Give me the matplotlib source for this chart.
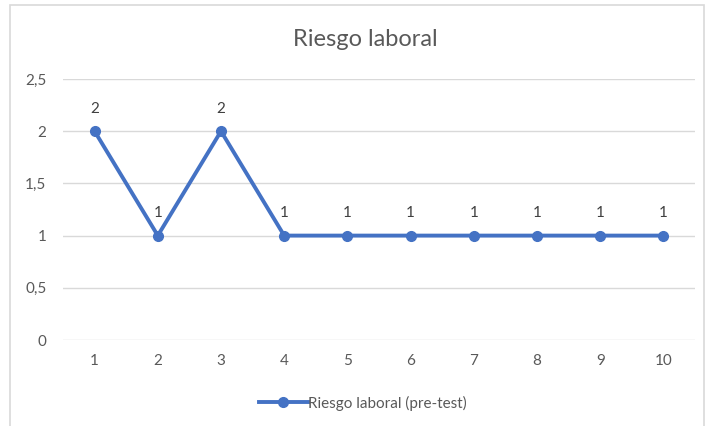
import matplotlib
matplotlib.use("Agg")
import matplotlib.pyplot as plt
from matplotlib.patches import Rectangle

# datos
dias = [1, 2, 3, 4, 5, 6, 7, 8, 9, 10]
riesgo = [2, 1, 2, 1, 1, 1, 1, 1, 1, 1]
y_ticks = [0, 0.5, 1, 1.5, 2, 2.5]
y_labels = ["0", "0,5", "1", "1,5", "2", "2,5"]
serie = "Riesgo laboral (pre-test)"
titulo = "Riesgo laboral"

plt.rcParams["font.family"] = ["Lato", "DejaVu Sans"]
azul = "#4472C4"
gris_txt = "#595959"

fig = plt.figure(figsize=(7.07, 4.26), dpi=100)
fig.patches.append(Rectangle((10 / 707, -0.1), 694 / 707, 1 - 5 / 426 + 0.1,
                             transform=fig.transFigure, fill=False,
                             edgecolor="#d9d9d9", linewidth=1.2))
ax = fig.add_axes([63 / 707, 1 - 340 / 426, 632 / 707, 261 / 426])

ax.plot(dias, riesgo, color=azul, linewidth=2.8, marker="o", markersize=7,
        label=serie, zorder=3)
for x, y in zip(dias, riesgo):
    ax.annotate(str(y), (x, y), textcoords="offset points", xytext=(0, 11),
                ha="center", va="bottom", fontsize=11, color="#404040")

ax.set_xlim(0.5, 10.5)
ax.set_ylim(0, 2.5)
ax.set_xticks(dias)
ax.set_xticklabels([str(d) for d in dias])
ax.set_yticks(y_ticks)
ax.set_yticklabels(y_labels)
ax.tick_params(axis="both", length=0, labelsize=11, labelcolor=gris_txt)
ax.tick_params(axis="y", pad=12)
ax.tick_params(axis="x", pad=10)
ax.grid(axis="y", color="#d9d9d9", linewidth=1)
ax.set_axisbelow(True)
for s in ax.spines.values():
    s.set_visible(False)

fig.text(365 / 707, 1 - 40 / 426, titulo, ha="center", va="center",
         fontsize=17, color=gris_txt)
fig.legend(loc="center", bbox_to_anchor=(363 / 707, 1 - 403 / 426), frameon=False,
           fontsize=11, labelcolor=gris_txt, handlelength=3.2, handletextpad=0.05)

fig.savefig("out.png", dpi=100)
